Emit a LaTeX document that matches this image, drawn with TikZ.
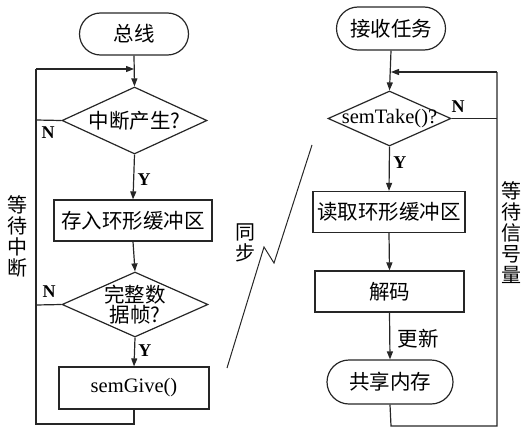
\documentclass[tikz,border=0pt]{standalone}
\usepackage{fontspec}
\setmainfont{Liberation Serif}
\newfontfamily\cjk{Noto Sans CJK SC}
\usetikzlibrary{shapes.geometric,shapes.misc,arrows.meta}
\begin{document}
\begin{tikzpicture}[x=1pt,y=-1pt,
  every node/.style={font=\fontsize{20.5}{22}\selectfont},
  line/.style={line width=1.2pt,draw=black!85},
  arr/.style={line,-{Triangle[length=8pt,width=6pt]}},
  cjkf/.style={font=\cjk\fontsize{20.5}{22}\selectfont},
  term/.style={rounded rectangle,line,inner sep=0pt,cjkf},
  proc/.style={rectangle,line,inner sep=0pt,cjkf},
  dec/.style={diamond,line,inner sep=0pt},
  lbl/.style={font=\bfseries\fontsize{18}{20}\selectfont},
  vlbl/.style={font=\cjk\fontsize{20}{22}\selectfont,align=center}]
\useasboundingbox (0,0) rectangle (521,428);
% left column
\node[term,minimum width=109pt,minimum height=42pt] (t1) at (134,34) {总线};
\node[dec,minimum width=145pt,minimum height=67pt,
  label={[cjkf]center:中断产生?}] (d1) at (134.5,120.5) {};
\node[proc,minimum width=158pt,minimum height=41pt] (b1) at (133,220.5) {存入环形缓冲区};
\node[dec,minimum width=146pt,minimum height=65pt,
  label={[cjkf,align=center]center:完整数\\[-2pt]据帧?}] (d2) at (135,304.5) {};
\node[proc,minimum width=150pt,minimum height=42pt,font=\fontsize{20.5}{22}\selectfont] (b2) at (134,388) {semGive()};
\coordinate (lbr) at (134,424);
\coordinate (lbl) at (36,424);
\coordinate (ltl) at (36,69);
\coordinate (ltr) at (134,69);
\coordinate (ln1) at (36,120);
\coordinate (ln2) at (36,305);
\draw[arr] (t1.south) -- (d1.north);
\draw[arr] (d1.south) -- node[lbl,right,pos=0.55] (y1) {Y} (b1.north);
\draw[arr] (b1.south) -- (d2.north);
\draw[arr] (d2.south) -- node[lbl,right,pos=0.45] (y2) {Y} (b2.north);
\draw[line] (b2.south) -- (lbr) -- (lbl) -- (ltl);
\draw[arr] (ltl) -- (ltr);
\draw[line] (d1.west) -- (ln1);
\draw[line] (d2.west) -- (ln2);
\node[lbl] (n1) at (48,133) {N};
\node[lbl] (n2) at (49,292) {N};
\node[vlbl] (wl) at (17,236) {等\\[-1pt]待\\[-1pt]中\\[-1pt]断};
% right column
\node[term,minimum width=109pt,minimum height=43pt] (t2) at (391,28.5) {接收任务};
\node[dec,minimum width=123pt,minimum height=55pt,
  label={[font=\fontsize{20.5}{22}\selectfont]center:semTake()?}] (d3) at (389.5,118.5) {};
\node[proc,minimum width=152pt,minimum height=41pt] (b3) at (389,212) {读取环形缓冲区};
\node[proc,minimum width=149pt,minimum height=41pt] (b4) at (389.5,291.5) {解码};
\node[term,minimum width=126pt,minimum height=44pt] (t3) at (390,382) {共享内存};
\coordinate (rbl) at (391,426);
\coordinate (rbr) at (497,426);
\coordinate (rtr) at (497,72);
\coordinate (rtl) at (391,72);
\coordinate (rn) at (497,118.5);
\draw[arr] (t2.south) -- (d3.north);
\draw[arr] (d3.south) -- node[lbl,right,pos=0.35] (y3) {Y} (b3.north);
\draw[arr] (b3.south) -- (b4.north);
\draw[arr] (b4.south) -- node[right,pos=0.55,cjkf,xshift=4pt] (up) {更新} (t3.north);
\draw[line] (t3.south) -- (rbl) -- (rbr) -- (rtr);
\draw[arr] (rtr) -- (rtl);
\draw[line] (d3.east) -- (rn);
\node[lbl] (n3) at (458,107) {N};
\node[vlbl] (wr) at (511,233) {等\\[-1pt]待\\[-1pt]信\\[-1pt]号\\[-1pt]量};
% sync bolt
\coordinate (s0) at (227,368);
\coordinate (s1) at (264,247);
\coordinate (s2) at (274,263);
\coordinate (s3) at (312,145);
\draw[line,line width=1pt] (s0) -- (s1) -- (s2) -- (s3);
\node[vlbl] (sy) at (245,243) {同\\[-1pt]步};
\end{tikzpicture}
\end{document}
